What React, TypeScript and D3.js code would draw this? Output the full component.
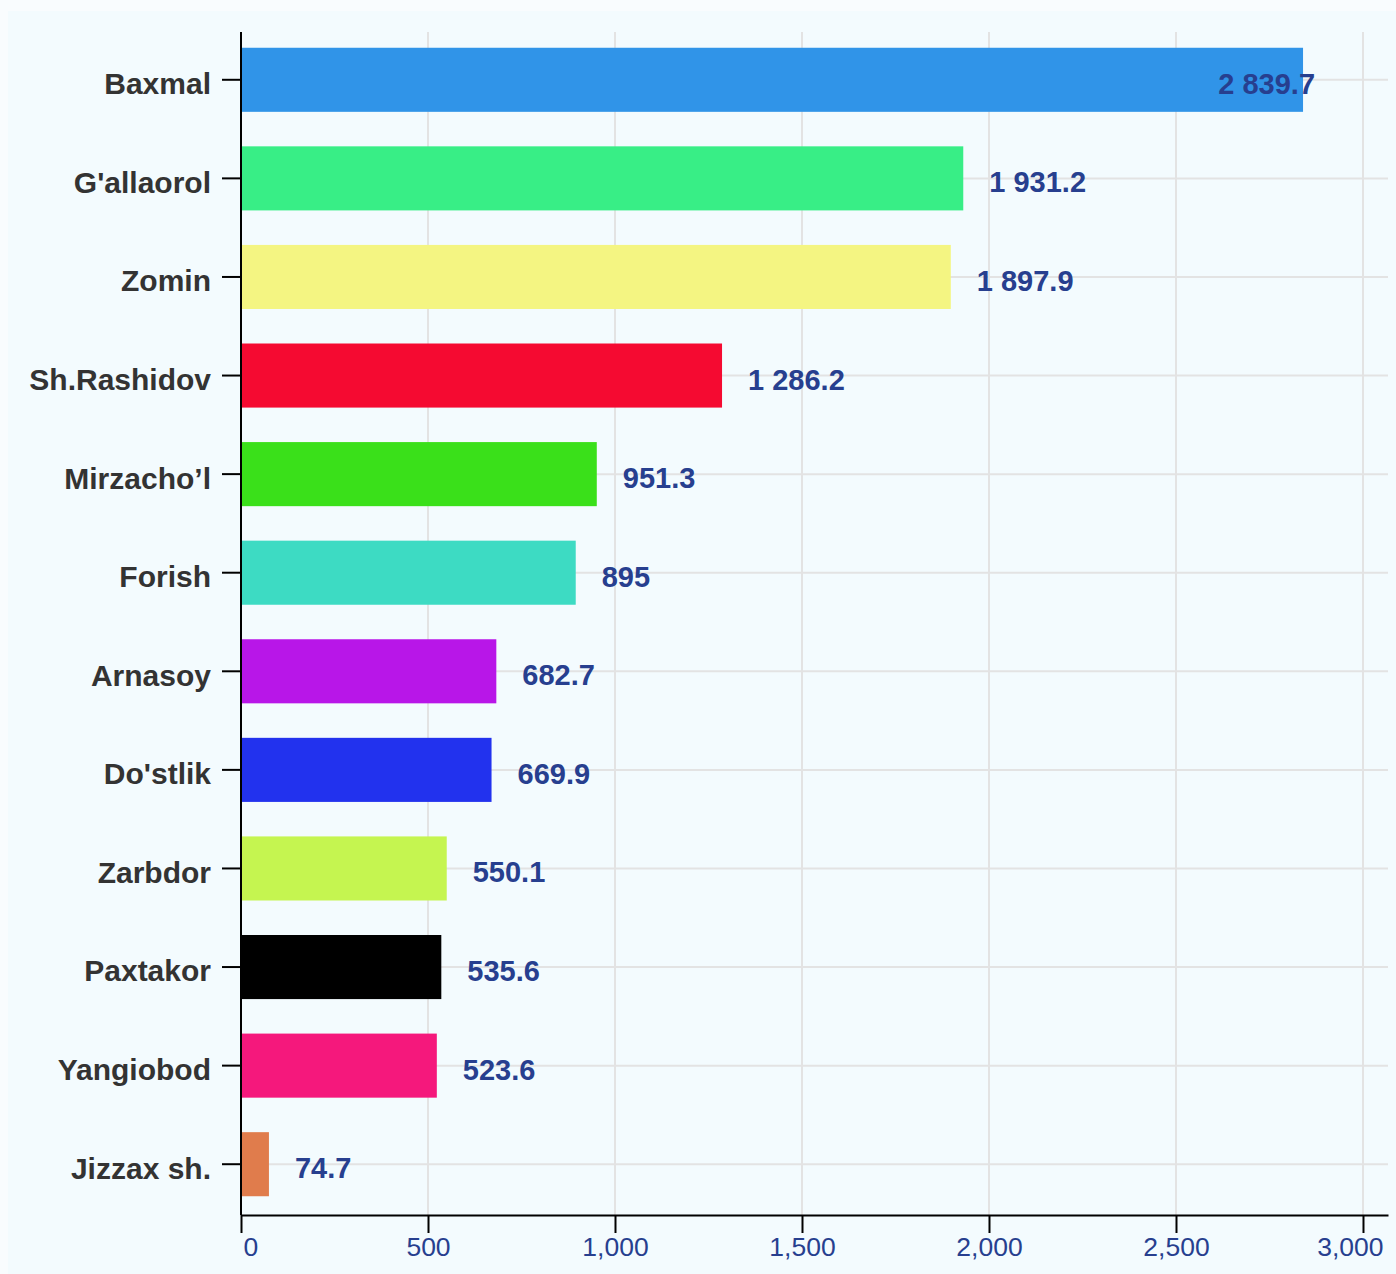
import React, { useRef, useEffect } from "react";
import * as d3 from "d3";

const WIDTH = 1396;
const HEIGHT = 1274;

const categories = [
  "Baxmal",
  "G'allaorol",
  "Zomin",
  "Sh.Rashidov",
  "Mirzacho’l",
  "Forish",
  "Arnasoy",
  "Do'stlik",
  "Zarbdor",
  "Paxtakor",
  "Yangiobod",
  "Jizzax sh.",
];
const values = [2839.7, 1931.2, 1897.9, 1286.2, 951.3, 895, 682.7, 669.9, 550.1, 535.6, 523.6, 74.7];
const colors = [
  "#3094e8",
  "#38ee86",
  "#f4f582",
  "#f50a31",
  "#3ae01a",
  "#3ddbc3",
  "#b816e8",
  "#2232ee",
  "#c5f550",
  "#000000",
  "#f5187c",
  "#e07c4c",
];
const xTicks = [0, 500, 1000, 1500, 2000, 2500, 3000];

const left = 241;
const right = 1388;
const top = 32;
const bottom = 1215;
const FONT = "'Liberation Sans', Arial, Helvetica, sans-serif";
const BLUE_TEXT = "#273f8f";

const spaceLocale = d3.formatLocale({
  decimal: ".",
  thousands: " ",
  grouping: [3],
  currency: ["", ""],
});
const fmtValue = spaceLocale.format(",~f");

const App = () => {
  const xAxisRef = useRef<SVGGElement>(null);
  const yAxisRef = useRef<SVGGElement>(null);

  const xMax = d3.max(values)! * 1.08;
  const x = d3.scaleLinear().domain([0, xMax]).range([left, right]);
  const y = d3
    .scaleBand<string>()
    .domain(categories)
    .range([top - 1.5, bottom - 1.5])
    .paddingInner(0.35)
    .paddingOuter(0.175);

  useEffect(() => {
    const xa = d3.select(xAxisRef.current!);
    xa.call(
      d3
        .axisBottom(x)
        .tickValues(xTicks)
        .tickSize(18)
        .tickSizeOuter(0)
        .tickPadding(4)
        .tickFormat(d3.format(",") as any)
    );
    xa.selectAll("path, line").attr("stroke", "#000").attr("stroke-width", 2);
    xa.selectAll("text")
      .attr("fill", BLUE_TEXT)
      .style("font-size", "26.5px")
      .style("font-family", FONT);
    // keep end labels inside the plot
    xa.selectAll<SVGTextElement, number>("text").each(function (d) {
      if (d === xTicks[0]) d3.select(this).attr("text-anchor", "start").attr("x", 2);
      if (d === xTicks[xTicks.length - 1]) d3.select(this).attr("text-anchor", "end").attr("x", 20);
    });

    const ya = d3.select(yAxisRef.current!);
    ya.call(d3.axisLeft(y).tickSize(19).tickSizeOuter(0).tickPadding(11));
    ya.select(".domain").remove();
    ya.selectAll("line").attr("stroke", "#000").attr("stroke-width", 2);
    ya.selectAll("text")
      .attr("fill", "#333")
      .attr("dy", "0.48em")
      .style("font-size", "30px")
      .style("font-weight", "bold")
      .style("font-family", FONT);
  });

  return (
    <svg
      width={WIDTH}
      height={HEIGHT}
      style={{ position: "absolute", left: 0, top: 0, display: "block" }}
    >
      <rect x={0} y={0} width={WIDTH} height={HEIGHT} fill="#f9fcfe" />
      <rect x={8} y={11} width={WIDTH - 8} height={HEIGHT - 11} fill="#f3fbfe" />
      {/* grid */}
      <g stroke="#e3e3e3" strokeWidth={2}>
        {xTicks.slice(1).map((t) => (
          <line key={t} x1={x(t)} x2={x(t)} y1={top} y2={bottom} />
        ))}
        {categories.map((c) => (
          <line
            key={c}
            x1={left}
            x2={right}
            y1={y(c)! + y.bandwidth() / 2}
            y2={y(c)! + y.bandwidth() / 2}
          />
        ))}
      </g>
      {/* bars */}
      <g>
        {categories.map((c, i) => (
          <rect
            key={c}
            x={x(0)}
            y={y(c)}
            width={x(values[i]) - x(0)}
            height={y.bandwidth()}
            fill={colors[i]}
          />
        ))}
      </g>
      {/* value labels */}
      <g fontFamily={FONT} fontWeight="bold" fontSize="29px" fill={BLUE_TEXT}>
        {categories.map((c, i) => {
          const end = x(values[i]);
          const inside = values[i] / xMax > 0.85;
          return (
            <text
              key={c}
              x={inside ? end + 12 : end + 26}
              y={y(c)! + y.bandwidth() / 2 + 14}
              textAnchor={inside ? "end" : "start"}
            >
              {fmtValue(values[i])}
            </text>
          );
        })}
      </g>
      <g ref={xAxisRef} transform={`translate(0, ${bottom})`} />
      <g ref={yAxisRef} transform={`translate(${left}, 0)`} />
      <line x1={left} x2={left} y1={top} y2={bottom} stroke="#000" strokeWidth={2} />
    </svg>
  );
};

export default App;
